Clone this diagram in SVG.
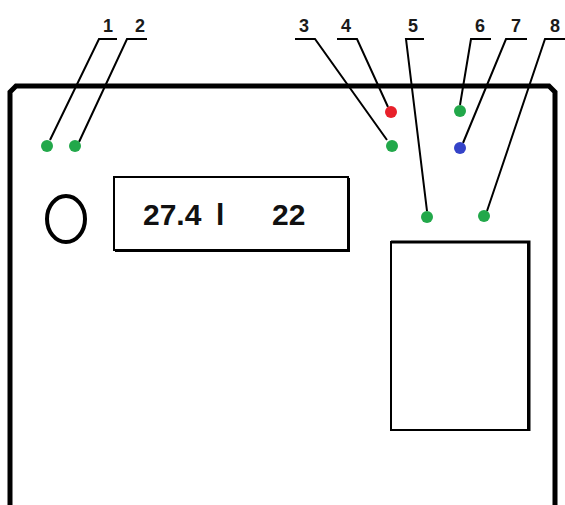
<svg xmlns="http://www.w3.org/2000/svg" width="565" height="505" viewBox="0 0 565 505">
<style>
.lbl{font-family:"Liberation Sans",Arial,sans-serif;font-weight:bold;font-size:18px;fill:#1a1a1a;text-anchor:middle}
.ld{stroke:#000;stroke-width:2;fill:none}
.g{fill:#22a84a}
.disp{font-family:"Liberation Sans",Arial,sans-serif;font-weight:bold;font-size:30px;fill:#111}
</style>
<rect width="565" height="505" fill="#fff"/>
<g id="housing">
<path d="M10,505 L10,92 L16,86 L549,86 L555,92 L555,505" fill="none" stroke="#000" stroke-width="5"/>
</g>
<g id="knob"><ellipse cx="66" cy="219" rx="19" ry="23" fill="none" stroke="#000" stroke-width="4"/></g>
<g id="display">
<rect x="114" y="177" width="234" height="73" fill="#fff" stroke="#000" stroke-width="2"/>
<path d="M115,251 H349 V178" fill="none" stroke="#000" stroke-width="2"/>
<text class="disp" y="225"><tspan x="143">27.4</tspan><tspan x="216">l</tspan><tspan x="272">22</tspan></text>
</g>
<g id="panel">
<rect x="391" y="242" width="137" height="188" fill="#fff" stroke="#000" stroke-width="2"/>
<path d="M391,242 H529 V431" fill="none" stroke="#000" stroke-width="3"/>
</g>
<g id="connectors">
<path class="ld" d="M117,39 H99 L50,140"/>
<path class="ld" d="M147,39 H127 L79,142"/>
<path class="ld" d="M295,39 H315 L387,140"/>
<path class="ld" d="M337,39 H357 L388,107"/>
<path class="ld" d="M424,39 H406 L427,211"/>
<path class="ld" d="M491,39 H471 L460,105"/>
<path class="ld" d="M527,39 H506 L463,143"/>
<path class="ld" d="M565,39 H545 L487,211"/>
</g>
<g id="n1"><circle class="g" cx="47" cy="146" r="6"/><text class="lbl" x="108" y="32">1</text></g>
<g id="n2"><circle class="g" cx="75" cy="146" r="6"/><text class="lbl" x="140" y="32">2</text></g>
<g id="n3"><circle class="g" cx="392" cy="146" r="6"/><text class="lbl" x="304" y="32">3</text></g>
<g id="n4"><circle cx="391" cy="112" r="6" fill="#e8202a"/><text class="lbl" x="346" y="32">4</text></g>
<g id="n5"><circle class="g" cx="427" cy="217" r="6"/><text class="lbl" x="413" y="32">5</text></g>
<g id="n6"><circle class="g" cx="460" cy="111" r="6"/><text class="lbl" x="480" y="32">6</text></g>
<g id="n7"><circle cx="460" cy="148" r="6" fill="#3443c8"/><text class="lbl" x="516" y="32">7</text></g>
<g id="n8"><circle class="g" cx="484" cy="216" r="6"/><text class="lbl" x="555" y="32">8</text></g>
</svg>
